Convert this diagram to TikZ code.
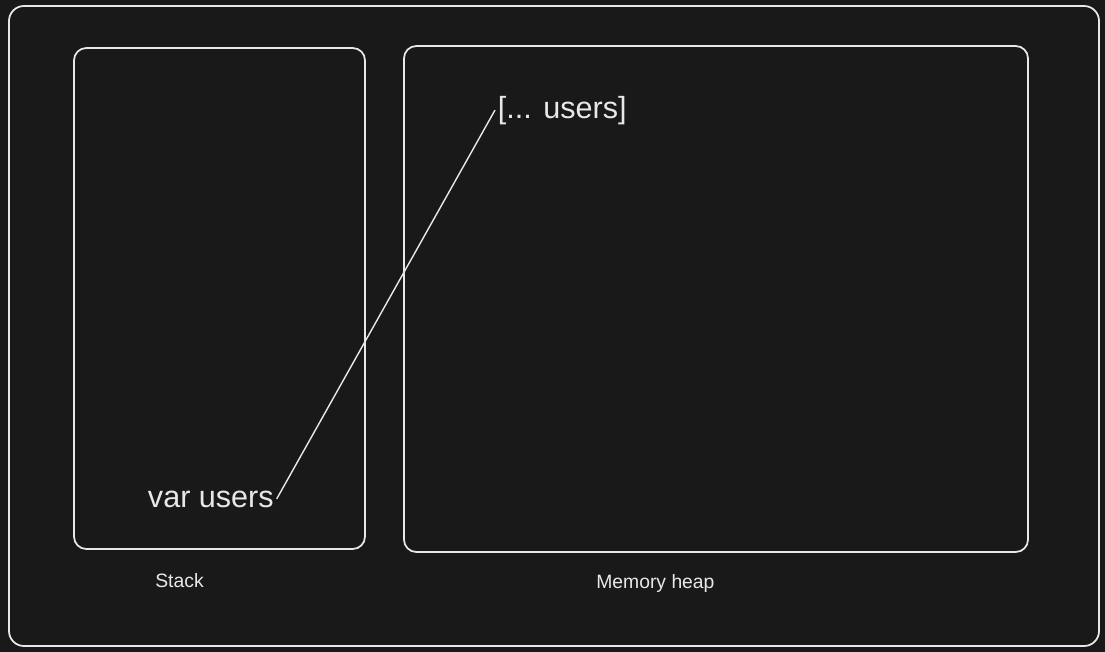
\documentclass[tikz,border=0pt]{standalone}
\usepackage{fontspec}
\setmainfont{Liberation Sans}
\usetikzlibrary{positioning}
\definecolor{bg}{HTML}{191919}
\definecolor{ink}{HTML}{E8E8E8}

\begin{document}
\begin{tikzpicture}[x=0.02cm,y=-0.02cm,
	box/.style={draw=ink, line width=1pt, rounded corners=7pt},
	big/.style={text=ink, inner sep=1.5pt, font=\fontsize{17.4}{20}\selectfont},
	small/.style={text=ink, inner sep=0pt, font=\fontsize{11}{13}\selectfont},
	link/.style={draw=ink, line width=0.8pt}]
	\fill[bg] (0,0) rectangle (1105,652);
	\useasboundingbox (0,0) rectangle (1105,652);
	% frames
	\draw[box, rounded corners=8.5pt] (9,6) rectangle (1099,646);
	\draw[box] (74,48) rectangle (365,549);
	\draw[box] (404,46) rectangle (1028,552);
	% texts
	\node (var) [big, anchor=base west] at (145,507) {var users};
	\node (arr) [big, anchor=base west] at (495,118) {[... users]};
	\node (stack) [small, anchor=base west] at (155,587) {Stack};
	\node (heap) [small, anchor=base west] at (596,588) {Memory heap};
	
	\draw[link] (var.east) -- (arr.west);
\end{tikzpicture}
\end{document}
